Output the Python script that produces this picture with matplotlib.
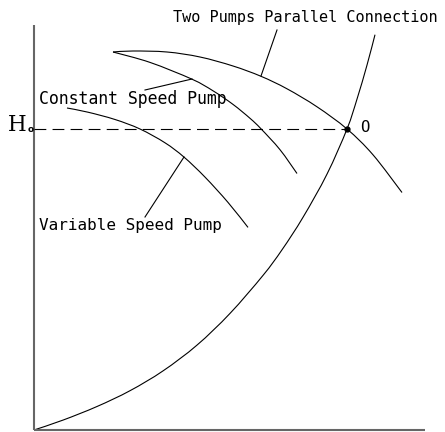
import matplotlib.pyplot as plt
from matplotlib.path import Path
from matplotlib.patches import PathPatch
import numpy as np

# sketch coordinates (x to the right, y downwards)
two_pumps_x = [113, 133, 167, 200, 233, 261, 287, 317, 347, 373, 402]
two_pumps_y = [52, 51, 52, 57, 66, 76.3, 88.8, 106.8, 129, 154.8, 192.5]

const_x = [113, 150, 192, 213, 233, 250, 261, 280, 297]
const_y = [52, 62.4, 79.2, 90.8, 104.4, 118.3, 128.8, 149.7, 173.5]

var_x = [67, 88, 115, 140, 165, 184, 205, 228, 248]
var_y = [108, 112.2, 119.5, 129, 142.8, 157.1, 177.1, 202.4, 227.4]

system_x = [34, 63, 97, 130, 163, 197, 230, 263, 282, 303, 327, 347, 357, 367, 375]
system_y = [430, 420.1, 406.5, 390.7, 370.9, 345.1, 313.4, 275.4, 249.8, 217.3,
            174.1, 129, 99.1, 65.1, 34.7]

h0 = 129
op_x = 347

labels = ["Two Pumps Parallel Connection", "Constant Speed Pump", "Variable Speed Pump"]

plt.rcParams['lines.scale_dashes'] = False


def smooth_curve(ax, xs, ys, **kw):
    # catmull-rom through the read points, drawn as cubic bezier pieces
    p = np.column_stack([xs, ys]).astype(float)
    p = np.vstack([p[0], p, p[-1]])
    verts = [p[1]]
    codes = [Path.MOVETO]
    for i in range(1, len(p) - 2):
        c1 = p[i] + (p[i + 1] - p[i - 1]) / 6
        c2 = p[i + 1] - (p[i + 2] - p[i]) / 6
        verts += [c1, c2, p[i + 1]]
        codes += [Path.CURVE4] * 3
    ax.add_patch(PathPatch(Path(verts, codes), fill=False, **kw))


fig = plt.figure(figsize=(4.45, 4.32), dpi=100)
ax = fig.add_axes([0, 0, 1, 1])
ax.set_xlim(0, 445)
ax.set_ylim(432, 0)
ax.axis('off')

# the two axes of the sketch
ax.plot([34, 34], [25, 430], color='#666666', lw=1.5, solid_capstyle='butt')
ax.plot([34, 425], [430, 430], color='#666666', lw=1.5, solid_capstyle='butt')

for xs, ys in [(two_pumps_x, two_pumps_y), (const_x, const_y),
               (var_x, var_y), (system_x, system_y)]:
    smooth_curve(ax, xs, ys, edgecolor='black', lw=0.8)

# H0 line and operating point
ax.plot([34, op_x], [h0, h0], color='black', lw=0.8, dashes=(8.5, 4.5))
ax.plot([op_x], [h0], 'o', color='black', ms=3.5)

# leader lines
ax.plot([277, 261], [30, 76], color='black', lw=0.8)
ax.plot([145, 192], [90, 79], color='black', lw=0.8)
ax.plot([145, 184], [217, 157], color='black', lw=0.8)

tkw = dict(family='DejaVu Sans Mono', color='black', ha='left', va='baseline')
ax.text(173, 22, labels[0], fontsize=11.0, **tkw)
ax.text(39, 104, labels[1], fontsize=11.9, **tkw)
ax.text(39, 230, labels[2], fontsize=11.5, **tkw)
ax.text(360, 132, "O", fontsize=11.3, **tkw)
ax.text(8, 131, "H", family='DejaVu Serif', fontsize=15.5, ha='left', va='baseline')
ax.text(28, 131.5, "o", family='DejaVu Sans', fontsize=6.5, fontweight='bold',
        ha='left', va='baseline')

fig.savefig('out.png', dpi=100)
